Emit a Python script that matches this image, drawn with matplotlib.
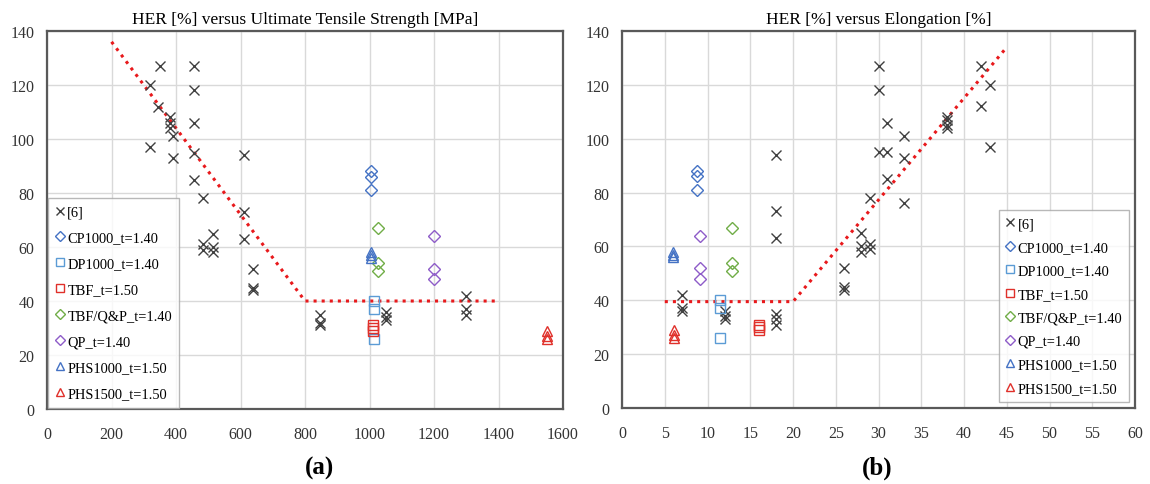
import matplotlib.pyplot as plt

plt.rcParams['font.family'] = ['Liberation Serif', 'DejaVu Serif']

# ---- (a) HER vs UTS ----
ref6_uts = [318, 318, 350, 345, 380, 380, 380, 390, 390, 455, 455, 455, 455, 455, 485, 485, 485,
            515, 515, 515, 610, 610, 610, 640, 640, 640, 845, 845, 845, 1050, 1050, 1050, 1300, 1300, 1300]
ref6_her_a = [120, 97, 127, 112, 108, 106, 104, 101, 93, 127, 118, 106, 95, 85, 78, 61, 59,
              65, 60, 58, 94, 73, 63, 52, 45, 44, 35, 32, 31, 36, 34, 33, 42, 37, 35]
cp_uts, cp_her = [1005, 1005, 1005], [88, 86, 81]
dp_uts, dp_her = [1015, 1015, 1015], [40, 37, 26]
tbf_uts, tbf_her = [1012, 1012, 1012], [31, 30, 29]
qnp_uts, qnp_her = [1025, 1025, 1025], [67, 54, 51]
qp_uts, qp_her = [1200, 1200, 1200], [64, 52, 48]
phs1000_uts, phs1000_her = [1005, 1005, 1005], [58, 57, 56]
phs1500_uts, phs1500_her = [1550, 1550, 1550], [29, 27, 26]
trend_uts = [200, 800, 1400]
trend_uts_her = [136, 40, 40]

# ---- (b) HER vs Elongation ----
ref6_el = [7, 7, 7, 12, 12, 12, 18, 18, 18, 18, 18, 18, 26, 26, 26, 28, 28, 28, 29, 29, 29,
           30, 30, 30, 31, 31, 31, 33, 33, 33, 38, 38, 38, 38, 42, 42, 43, 43]
ref6_her_b = [42, 37, 36, 36, 34, 33, 94, 73, 63, 35, 33, 31, 52, 45, 44, 65, 60, 58, 78, 61, 59,
              127, 118, 95, 106, 95, 85, 101, 93, 76, 108, 107, 105, 104, 127, 112, 120, 97]
cp_el = [8.8, 8.8, 8.8]
dp_el = [11.4, 11.4, 11.4]
tbf_el = [16, 16, 16]
qnp_el = [12.9, 12.9, 12.9]
qp_el = [9.1, 9.1, 9.1]
phs1000_el = [6, 6, 6]
phs1500_el = [6.1, 6.1, 6.1]
trend_el = [5, 20, 45]
trend_el_her = [39.5, 39.5, 134]

labels = ['[6]', 'CP1000_t=1.40', 'DP1000_t=1.40', 'TBF_t=1.50', 'TBF/Q&P_t=1.40',
          'QP_t=1.40', 'PHS1000_t=1.50', 'PHS1500_t=1.50']
markers = ['x', 'D', 's', 's', 'D', 'D', '^', '^']
colors = ['#404040', '#4472C4', '#5B9BD5', '#E0302A', '#70AD47', '#8E5CC8', '#4472C4', '#E0302A']
sizes = [7, 6.5, 7, 7, 6.5, 6.5, 7, 7]

fig = plt.figure(figsize=(11.5, 4.85), dpi=100)
ax1 = fig.add_axes([0.0409, 0.1546, 0.4487, 0.7794])
ax2 = fig.add_axes([0.5409, 0.1567, 0.4461, 0.7773])

series_a = [(ref6_uts, ref6_her_a), (cp_uts, cp_her), (dp_uts, dp_her), (tbf_uts, tbf_her),
            (qnp_uts, qnp_her), (qp_uts, qp_her), (phs1000_uts, phs1000_her), (phs1500_uts, phs1500_her)]
series_b = [(ref6_el, ref6_her_b), (cp_el, cp_her), (dp_el, dp_her), (tbf_el, tbf_her),
            (qnp_el, qnp_her), (qp_el, qp_her), (phs1000_el, phs1000_her), (phs1500_el, phs1500_her)]


def draw(ax, series, trend_x, trend_y, xmax, xstep, title, legend_loc, lspace, axpad):
    for (x, y), lab, mk, c, s in zip(series, labels, markers, colors, sizes):
        if mk == 'x':
            ax.plot(x, y, ls='none', marker='x', color=c, ms=s, mew=1.0, label=lab)
        else:
            ax.plot(x, y, ls='none', marker=mk, mfc='none', mec=c, ms=s, mew=1.0, label=lab)
    ax.plot(trend_x, trend_y, ls=':', color='#E8191C', lw=2.2, zorder=1)
    ax.set_xlim(0, xmax)
    ax.set_ylim(0, 140)
    ax.set_xticks(range(0, xmax + 1, xstep))
    ax.set_yticks(range(0, 141, 20))
    ax.grid(True, color='#D9D9D9', lw=1)
    ax.set_axisbelow(True)
    for sp in ax.spines.values():
        sp.set_color('#595959')
        sp.set_linewidth(1.6)
    ax.tick_params(axis='both', length=0, labelsize=11.5, colors='#333333')
    ax.tick_params(axis='x', pad=12)
    ax.tick_params(axis='y', pad=9)
    ax.set_title(title, fontsize=12.5, pad=6)
    leg = ax.legend(loc=legend_loc, fontsize=10.4, frameon=True, fancybox=False,
                    handlelength=0.6, handletextpad=0.2, labelspacing=lspace,
                    borderpad=0.5, markerscale=0.75, borderaxespad=axpad)
    leg.get_frame().set_edgecolor('#A6A6A6')
    leg.get_frame().set_linewidth(1.0)


draw(ax1, series_a, trend_uts, trend_uts_her, 1600, 200,
     'HER [%] versus Ultimate Tensile Strength [MPa]', 'lower left', 0.89, 0.1)
draw(ax2, series_b, trend_el, trend_el_her, 60, 5,
     'HER [%] versus Elongation [%]', 'lower right', 0.72, 0.4)

fig.text(0.278, 0.022, '(a)', fontsize=18, fontweight='bold', ha='center')
fig.text(0.763, 0.022, '(b)', fontsize=18, fontweight='bold', ha='center')

fig.savefig('out.png', dpi=100)
